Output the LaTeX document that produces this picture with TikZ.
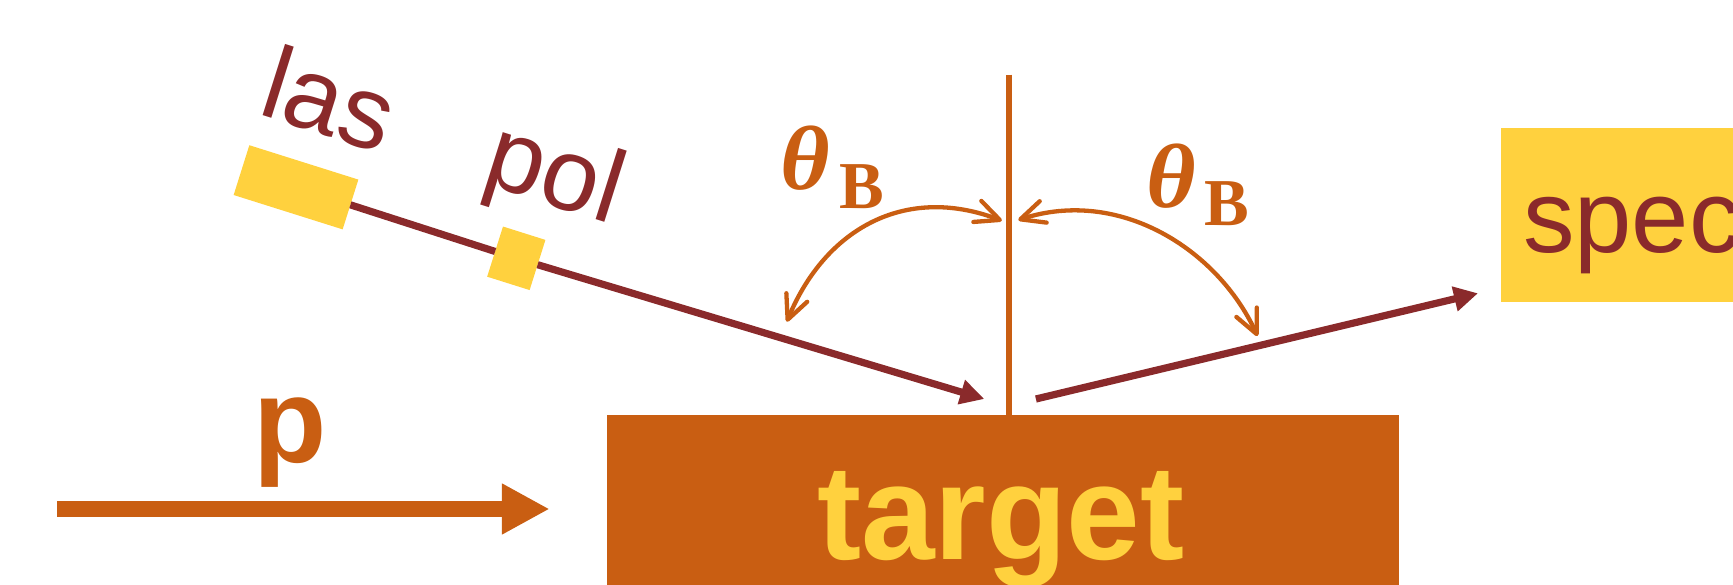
\documentclass[tikz,border=0pt]{standalone}
\usepackage{fontspec}
\setmainfont{Liberation Sans}
\newfontfamily\thetafam{Liberation Serif}
\usetikzlibrary{arrows.meta}
\definecolor{orangeC}{RGB}{201,94,18}
\definecolor{yellowC}{RGB}{255,209,62}
\definecolor{brownC}{RGB}{138,42,43}
\newcommand{\thetaB}{{\thetafam\bfseries\fontsize{91}{91}\selectfont\itshape\scalebox{1.05}[1]{θ}\hspace{9pt}\upshape\fontsize{67}{67}\selectfont\raisebox{-18.4pt}{B}}}
\tikzset{
  box/.style={fill=yellowC,inner sep=0pt,outer sep=0pt,draw=none},
  lbl/.style={inner sep=0pt,outer sep=0pt,anchor=base west},
  beam/.style={draw=brownC,line width=7.2pt,line cap=butt},
  beamhead/.style={-{Triangle[length=24pt,width=24pt]}},
  angarc/.style={draw=orangeC,line width=4.3pt,line cap=round,{Straight Barb[length=24pt,width=22.5pt,round]}-{Straight Barb[length=24pt,width=22.5pt,round]}},
  bigtext/.style={font=\fontsize{103}{103}\selectfont}
}
\begin{document}
\begin{tikzpicture}[x=1pt,y=-1pt]
\path[use as bounding box,clip] (0,0) rectangle (1733,585);
% boxes
\node[box,rotate=-17.5,minimum width=114.3pt,minimum height=52.2pt] (las) at (296,187.3) {};
\node[box,rotate=-17.5,minimum width=44.5pt,minimum height=52.6pt] (pol) at (516.3,258.3) {};
\path[fill=yellowC] (1501,128) rectangle (1733,301.7);
\node[fill=orangeC,inner sep=0pt,outer sep=0pt,anchor=north west,minimum width=792pt,minimum height=170pt] (target) at (607,415) {};
% beams
\coordinate (hit) at (984.3,399);
\coordinate (out) at (1035.9,399);
\coordinate (spec) at (1478,293.3);
\draw[beam] (las) -- (pol);
\draw[beam,beamhead] (pol) -- (hit);
\draw[beam,beamhead] (out) -- (spec);
% normal
\coordinate (normaltop) at (1008.5,74.7);
\draw[draw=orangeC,line width=6pt] (normaltop) -- (target.north -| normaltop);
% angle arcs
\coordinate (aL) at (1001.8,220.7);
\coordinate (bL) at (786.8,321.7);
\coordinate (aR) at (1018.3,220);
\coordinate (bR) at (1257.5,336);
\draw[angarc] (aL) .. controls (905,184) and (825,229) .. (bL);
\draw[angarc] (aR) .. controls (1120,187) and (1218,250) .. (bR);
% photon arrow
\coordinate (pstart) at (57,509);
\coordinate (pend) at (549.6,509);
\draw[draw=orangeC,line width=16.3pt,-{Triangle[length=47.8pt,width=47.7pt]}] (pstart) -- (pend);
% labels
\node[lbl,text=brownC,bigtext,rotate=-17.5] (laslabel) at (256,114) {las};
\node[lbl,text=brownC,bigtext,rotate=-17.5] (pollabel) at (480,183) {pol};
\node[lbl,text=brownC,bigtext] (speclabel) at (1523,253) {spec};
\node[lbl,text=orangeC,font=\bfseries\fontsize{120}{120}\selectfont] (plabel) at (253,462.4) {p};
\node[lbl,text=yellowC,font=\bfseries\fontsize{135}{135}\selectfont,xscale=.98] (targetlabel) at (817,559) {target};
\node[lbl,text=orangeC] (thetaL) at (780.5,190) {\thetaB};
\node[lbl,text=orangeC] (thetaR) at (1146,207.3) {\thetaB};
\end{tikzpicture}
\end{document}
